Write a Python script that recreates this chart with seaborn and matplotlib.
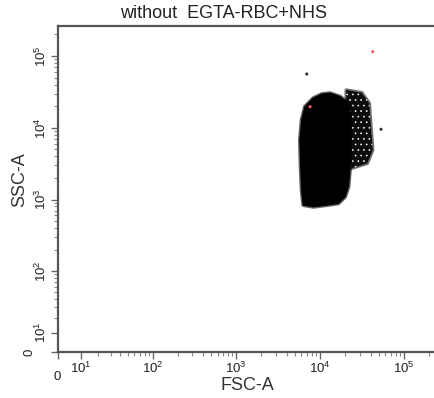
import numpy as np
import matplotlib
matplotlib.use("Agg")
import matplotlib.pyplot as plt
import seaborn as sns
import pandas as pd
from matplotlib.transforms import ScaledTranslation

# ---- texts ----
title_text = "without  EGTA-RBC+NHS"
x_label = "FSC-A"
y_label = "SSC-A"
major_ticks = [0, 10, 100, 1000, 10000, 100000]
major_labels = ["0", "$10^{1}$", "$10^{2}$", "$10^{3}$", "$10^{4}$", "$10^{5}$"]
axis_max = 262144

# ---- dense population outline (FSC-A, SSC-A) ----
core_fsc = [13160, 17300, 21770, 22800, 22800, 22800, 21770, 19870, 16520,
            12020, 8320, 6320, 6050, 5890, 5775, 6050, 6630, 8320, 10480]
core_ssc = [30240, 27120, 21930, 14270, 6760, 2870, 1510, 1096, 886,
            839, 795, 839, 1358, 2870, 6760, 12840, 19680, 25780, 29300]

# ---- sparser shoulder on the right of the population ----
fringe_fsc = [20500, 31450, 38700, 40200, 42500, 36680, 23900, 20500]
fringe_ssc = [33600, 30840, 21930, 11560, 4900, 3200, 2725, 6760]

# ---- isolated events ----
event_fsc = [42500, 6940, 53400, 7600]
event_ssc = [115000, 56200, 9530, 19680]
event_kind = ["red", "black", "black", "red"]

sns.set_theme(style="white")
plt.rcParams["font.family"] = ["Liberation Sans", "DejaVu Sans"]
plt.rcParams["mathtext.fontset"] = "custom"
plt.rcParams["mathtext.rm"] = "Liberation Sans"
plt.rcParams["mathtext.it"] = "Liberation Sans"
plt.rcParams["hatch.linewidth"] = 0.45

W = 15.0
def fwd(v):
    return np.arcsinh(np.asarray(v, dtype=float) / W)
def inv(v):
    return W * np.sinh(np.asarray(v, dtype=float))

fig = plt.figure(figsize=(4.35, 3.98), dpi=100)
ax = fig.add_axes([58 / 435, 1 - 352 / 398, (439 - 58) / 435, (352 - 26) / 398])
ax.set_xscale("function", functions=(fwd, inv))
ax.set_yscale("function", functions=(fwd, inv))
ax.set_xlim(0, axis_max)
ax.set_ylim(0, axis_max)

# soft ragged border of the shoulder
ax.fill(fringe_fsc, fringe_ssc, facecolor="none", edgecolor=(0, 0, 0, 0.55),
        linewidth=2.5, joinstyle="round", zorder=2)
ax.fill(fringe_fsc, fringe_ssc, facecolor="#0c0c0c", edgecolor="white",
        hatch="...", linewidth=0, zorder=2)
# soft border of the dense core
ax.fill(core_fsc, core_ssc, facecolor="none", edgecolor=(0, 0, 0, 0.6),
        linewidth=3, joinstyle="round", zorder=3)
ax.fill(core_fsc, core_ssc, facecolor="black", edgecolor="black",
        linewidth=1, joinstyle="round", zorder=3)

df = pd.DataFrame({"FSC": event_fsc, "SSC": event_ssc, "kind": event_kind})
sns.scatterplot(data=df, x="FSC", y="SSC", hue="kind",
                palette={"red": "#ff5a5a", "black": "#303030"},
                s=5, linewidth=0, legend=False, ax=ax, zorder=4)

minor = [m * 10 ** k for k in range(1, 6) for m in range(2, 10) if m * 10 ** k < axis_max]
for axis in (ax.xaxis, ax.yaxis):
    axis.set_ticks(major_ticks)
    axis.set_ticklabels(major_labels)
    axis.set_ticks(minor, minor=True)

ax.tick_params(which="major", direction="out", length=5, width=1, color="#666666",
               labelsize=9.5, labelcolor="#222222", pad=1.5,
               bottom=True, left=True)
ax.tick_params(which="minor", direction="out", length=3, width=0.8, color="#888888",
               bottom=True, left=True)
for lab in ax.get_yticklabels():
    lab.set_rotation(90)
    lab.set_va("center")

# offset the zero labels as in the reference
xl0 = ax.get_xticklabels()[0]
xl0.set_transform(xl0.get_transform() + ScaledTranslation(-0.01, -0.10, fig.dpi_scale_trans))
yl0 = ax.get_yticklabels()[0]
yl0.set_transform(yl0.get_transform() + ScaledTranslation(-0.13, 0.0, fig.dpi_scale_trans))

for side in ("left", "bottom", "top"):
    ax.spines[side].set_color("#555555")
    ax.spines[side].set_linewidth(1.6)
    ax.spines[side].set_visible(True)
ax.spines["right"].set_visible(False)

ax.set_xlabel("")
ax.set_ylabel("")
fig.text(247.5 / 435, 1 - 386 / 398, x_label, ha="center", va="center",
         fontsize=13, color="#333333")
fig.text(20 / 435, 1 - 180 / 398, y_label, ha="center", va="center",
         rotation=90, fontsize=13, color="#333333")
fig.text(224 / 435, 1 - 13.5 / 398, title_text, ha="center", va="center",
         fontsize=13, color="#222222")

fig.savefig("out.png", dpi=100)
